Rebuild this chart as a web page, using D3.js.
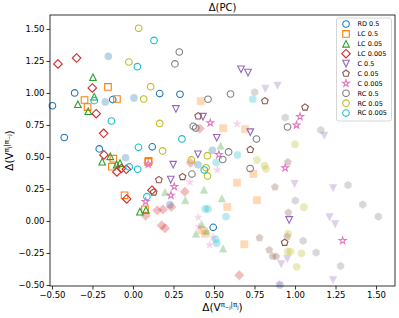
<!DOCTYPE html>
<html>
<head>
<meta charset="utf-8">
<script src="https://cdn.jsdelivr.net/npm/d3@7"></script>
<style>
  body { margin: 0; background: #fff; }
  text { font-family: "DejaVu Sans", sans-serif; }
</style>
</head>
<body>
<div id="chart"></div>
<script>
// values: [x, y] pairs, open markers and faded markers per series
var rd05Open    = [[-0.497,0.90],[-0.36,1.00],[-0.424,0.652],[-0.125,0.948],[0.165,0.995],[0.29,0.99],[-0.208,0.563],[0.119,0.579],[0.495,-0.05]]
var rd05Faded   = [[-0.152,1.286],[-0.171,0.93],[0.006,0.961],[-0.046,0.493],[0.49,0.552],[0.401,0.44],[0.228,0.127],[0.907,-0.50]]
var lc05Open    = [[-0.154,1.047],[-0.299,0.945],[-0.099,0.953],[-0.28,0.89],[0.097,0.469],[-0.121,0.487],[-0.13,0.424],[0.094,0.461],[-0.052,0.20],[0.074,0.091]]
var lc05Faded   = [[0.418,0.936],[0.557,0.724],[0.692,0.717],[0.642,0.299],[0.743,0.368],[0.765,0.162],[0.582,0.11],[0.687,-0.182],[0.424,-0.073],[0.445,-0.10]]
var lc005Open   = [[-0.247,1.123],[-0.239,0.971],[-0.34,0.912],[-0.276,0.857],[-0.14,0.505],[-0.19,0.463],[-0.101,0.44],[-0.08,0.452],[0.043,0.073],[0.08,0.086]]
var lc005Faded  = [[0.541,0.588],[0.198,0.226],[0.438,0.244],[0.323,0.163],[0.549,0.177],[0.389,-0.10],[0.424,-0.026],[0.455,-0.078],[0.556,-0.215]]
var lc0005Open  = [[-0.463,1.227],[-0.348,1.273],[-0.251,1.039],[-0.227,0.838],[-0.181,0.685],[-0.179,0.516],[-0.099,0.383],[-0.041,0.404],[-0.072,0.41],[-0.039,0.172],[0.117,0.24]]
var lc0005Faded = [[0.412,0.722],[0.356,0.455],[0.32,0.229],[0.237,0.11],[0.078,0.04],[0.15,0.083],[0.185,0.09],[0.177,-0.035],[0.198,-0.057],[0.656,-0.424]]
var c05Open     = [[0.265,0.875],[0.432,0.815],[0.517,0.65],[0.401,0.521],[0.248,0.44],[0.233,0.323],[0.667,1.185],[0.71,1.159],[0.724,0.694],[0.964,0.008]]
var c05Faded    = [[0.817,1.033],[0.892,1.057],[1.181,0.666],[0.997,0.289],[1.235,0.257],[1.213,0.03],[1.248,-0.025],[0.952,-0.296],[0.915,-0.337],[1.235,-0.461]]
var c005Open    = [[0.402,0.819],[0.16,0.321],[0.306,0.345],[0.128,0.224],[0.814,0.937],[1.062,0.888],[0.724,0.557],[0.936,-0.169]]
var c005Faded   = [[0.956,0.46],[0.876,0.265],[0.959,0.065],[0.781,-0.132],[0.952,-0.122],[0.841,-0.227],[0.862,-0.275],[0.884,-0.278]]
var c0005Open   = [[0.477,0.766],[0.53,0.518],[0.094,0.443],[0.255,0.268],[0.234,0.20],[0.078,0.151],[1.031,0.815],[1.009,0.749],[0.939,0.414],[1.294,-0.154]]
var c0005Faded  = [[0.643,0.758],[0.352,0.303],[0.403,0.028],[0.52,0.398],[0.473,-0.188],[0.494,-0.127],[0.407,-0.045],[0.903,-0.49]]
var rc05Open    = [[0.286,1.32],[0.259,1.227],[0.463,0.951],[0.602,0.992],[0.372,0.74],[0.387,0.726],[0.364,0.366],[0.554,0.48],[0.59,0.539],[0.762,0.64],[0.954,0.734],[0.723,0.41]]
var rc05Faded   = [[0.751,1.006],[0.94,0.808],[1.159,0.71],[1.327,0.28],[1.002,0.159],[1.418,0.128],[1.514,0.034],[1.05,-0.155],[1.13,-0.247],[1.281,-0.352]]
var rc005Open   = [[0.035,1.505],[-0.025,1.242],[0.109,1.049],[0.066,0.953],[0.165,0.762],[0.183,0.547],[0.36,0.477],[0.459,0.51],[0.451,0.415],[0.46,0.352]]
var rc005Faded  = [[1.0,0.60],[0.765,0.477],[0.812,0.432],[0.821,0.406],[1.055,0.108],[0.957,-0.10],[0.955,-0.24],[0.973,-0.24],[1.04,-0.253],[1.01,-0.358]]
var rc0005Open  = [[0.13,1.41],[0.027,1.205],[-0.239,0.94],[-0.133,0.781],[0.302,0.641],[0.034,0.575],[-0.023,0.422],[0.029,0.404],[0.086,0.19],[0.44,0.398]]
var rc0005Faded = [[0.739,0.951],[0.645,0.516],[0.514,0.458],[0.446,0.094],[0.463,0.094],[0.574,0.034],[0.51,-0.143],[0.517,-0.174]]

var labels  = ["RD 0.5","LC 0.5","LC 0.05","LC 0.005","C 0.5","C 0.05","C 0.005","RC 0.5","RC 0.05","RC 0.005"]
var colors  = ["#1f77b4","#ff7f0e","#2ca02c","#d62728","#9467bd","#8c564b","#e377c2","#7f7f7f","#bcbd22","#17becf"]
var shapes  = ["circle","square","triUp","diamond","triDown","pentagon","star","circle","circle","circle"]
var fadedShapes = ["circle","square","triUp","diamond","triDown","pentagon","star","hexagon","circle","circle"]
var openSets  = [rd05Open, lc05Open, lc005Open, lc0005Open, c05Open, c005Open, c0005Open, rc05Open, rc005Open, rc0005Open]
var fadedSets = [rd05Faded, lc05Faded, lc005Faded, lc0005Faded, c05Faded, c005Faded, c0005Faded, rc05Faded, rc005Faded, rc0005Faded]
var xTicks = [-0.5,-0.25,0,0.25,0.5,0.75,1,1.25,1.5]
var yTicks = [-0.5,-0.25,0,0.25,0.5,0.75,1,1.25,1.5]

var width = 399, height = 318
var margin = {left: 50, right: 4, top: 15, bottom: 32}

// custom marker paths, r is half the marker extent
function polygon(n, r, rot) {
  var pts = []
  for (var i = 0; i < n; i++) {
    var a = rot + i * 2 * Math.PI / n
    pts.push([r * Math.sin(a), -r * Math.cos(a)])
  }
  return "M" + pts.map(p => p[0].toFixed(2) + "," + p[1].toFixed(2)).join("L") + "Z"
}
function markerPath(shape, r) {
  if (shape == "circle") return d3.arc()({innerRadius: 0, outerRadius: r, startAngle: 0, endAngle: 2 * Math.PI})
  if (shape == "square") return "M" + (-r) + "," + (-r) + "h" + 2 * r + "v" + 2 * r + "h" + (-2 * r) + "Z"
  if (shape == "triUp") return "M0," + (-r) + "L" + r + "," + r + "L" + (-r) + "," + r + "Z"
  if (shape == "triDown") return "M0," + r + "L" + r + "," + (-r) + "L" + (-r) + "," + (-r) + "Z"
  if (shape == "diamond") return polygon(4, r * 1.3, 0)
  if (shape == "pentagon") return polygon(5, r * 1.05, 0)
  if (shape == "hexagon") return polygon(6, r * 1.05, 0)
  if (shape == "star") {
    var pts = []
    for (var i = 0; i < 10; i++) {
      var rr = i % 2 == 0 ? r * 1.1 : r * 1.1 * 0.382
      var a = i * Math.PI / 5
      pts.push([rr * Math.sin(a), -rr * Math.cos(a)])
    }
    return "M" + pts.map(p => p[0].toFixed(2) + "," + p[1].toFixed(2)).join("L") + "Z"
  }
}

var svg = d3.select("#chart").append("svg")
  .attr("width", width)
  .attr("height", height)

var x = d3.scaleLinear()
  .domain([-0.512, 1.617])
  .range([margin.left, width - margin.right])

var y = d3.scaleLinear()
  .domain([-0.508, 1.609])
  .range([height - margin.bottom, margin.top])

// faded markers first, then open ones, series by series
var g = svg.append("g")
fadedSets.forEach(function(set, i) {
  g.append("g").selectAll("path")
    .data(set)
    .enter().append("path")
    .attr("d", markerPath(fadedShapes[i], 3.6))
    .attr("transform", d => "translate(" + x(d[0]) + "," + y(d[1]) + ")")
    .style("fill", colors[i])
    .style("stroke", colors[i])
    .style("stroke-width", 0.6)
    .style("opacity", 0.3)
})
openSets.forEach(function(set, i) {
  g.append("g").selectAll("path")
    .data(set)
    .enter().append("path")
    .attr("d", markerPath(shapes[i], 3.3))
    .attr("transform", d => "translate(" + x(d[0]) + "," + y(d[1]) + ")")
    .style("fill", "none")
    .style("stroke", colors[i])
    .style("stroke-width", 1.1)
})

// axes
var fmt = d3.format(".2f")
svg.append("g")
  .attr("transform", "translate(0," + (height - margin.bottom) + ")")
  .call(d3.axisBottom(x).tickValues(xTicks).tickFormat(fmt).tickSize(3.5).tickPadding(2))
  .call(a => a.select(".domain").remove())
  .selectAll("text").style("font-size", "8.5px").style("fill", "#000")

svg.append("g")
  .attr("transform", "translate(" + margin.left + ",0)")
  .call(d3.axisLeft(y).tickValues(yTicks).tickFormat(fmt).tickSize(3.5).tickPadding(2))
  .call(a => a.select(".domain").remove())
  .selectAll("text").style("font-size", "8.5px").style("fill", "#000")

svg.selectAll(".tick line").style("stroke", "#000").style("stroke-width", 0.8)

svg.append("rect")
  .attr("x", margin.left)
  .attr("y", margin.top)
  .attr("width", width - margin.left - margin.right)
  .attr("height", height - margin.top - margin.bottom)
  .style("fill", "none")
  .style("stroke", "#000")
  .style("stroke-width", 0.8)

// title and axis labels
svg.append("text")
  .attr("x", (margin.left + width - margin.right) / 2)
  .attr("y", 11)
  .attr("text-anchor", "middle")
  .style("font-size", "10px")
  .text("Δ(PC)")

var xl = svg.append("text")
  .attr("x", (margin.left + width - margin.right) / 2)
  .attr("y", 311)
  .attr("text-anchor", "middle")
  .style("font-size", "10.5px")
xl.append("tspan").text("Δ(V")
xl.append("tspan").attr("dy", -4).style("font-size", "7px").text("π")
xl.append("tspan").attr("dy", 2).style("font-size", "5px").text("−j")
xl.append("tspan").attr("dy", -2).style("font-size", "7px").text("|π")
xl.append("tspan").attr("dy", 2).style("font-size", "5px").text("j")
xl.append("tspan").attr("dy", 2).text(")")

var yl = svg.append("text")
  .attr("transform", "translate(13," + ((margin.top + height - margin.bottom) / 2) + ") rotate(-90)")
  .attr("text-anchor", "middle")
  .style("font-size", "10.5px")
yl.append("tspan").text("Δ(V")
yl.append("tspan").attr("dy", -4).style("font-size", "7px").text("π")
yl.append("tspan").attr("dy", 2).style("font-size", "5px").text("j")
yl.append("tspan").attr("dy", -2).style("font-size", "7px").text("|π")
yl.append("tspan").attr("dy", 2).style("font-size", "5px").text("−j")
yl.append("tspan").attr("dy", 2).text(")")

// legend
var legend = svg.append("g")
legend.append("rect")
  .attr("x", 336.5).attr("y", 18)
  .attr("width", 55).attr("height", 103)
  .attr("rx", 2)
  .style("fill", "#fff").style("fill-opacity", 0.8)
  .style("stroke", "#ccc").style("stroke-width", 0.8)

legend.selectAll("mydots")
  .data(labels)
  .enter().append("path")
  .attr("d", (d, i) => markerPath(shapes[i], 3.3))
  .attr("transform", (d, i) => "translate(346," + (24 + i * 9.9) + ")")
  .style("fill", "none")
  .style("stroke", (d, i) => colors[i])
  .style("stroke-width", 1.1)

legend.selectAll("mylabels")
  .data(labels)
  .enter().append("text")
  .attr("x", 357.5)
  .attr("y", (d, i) => 24 + i * 9.9 + 2.3)
  .style("font-size", "6.5px")
  .text(d => d)
</script>
</body>
</html>
